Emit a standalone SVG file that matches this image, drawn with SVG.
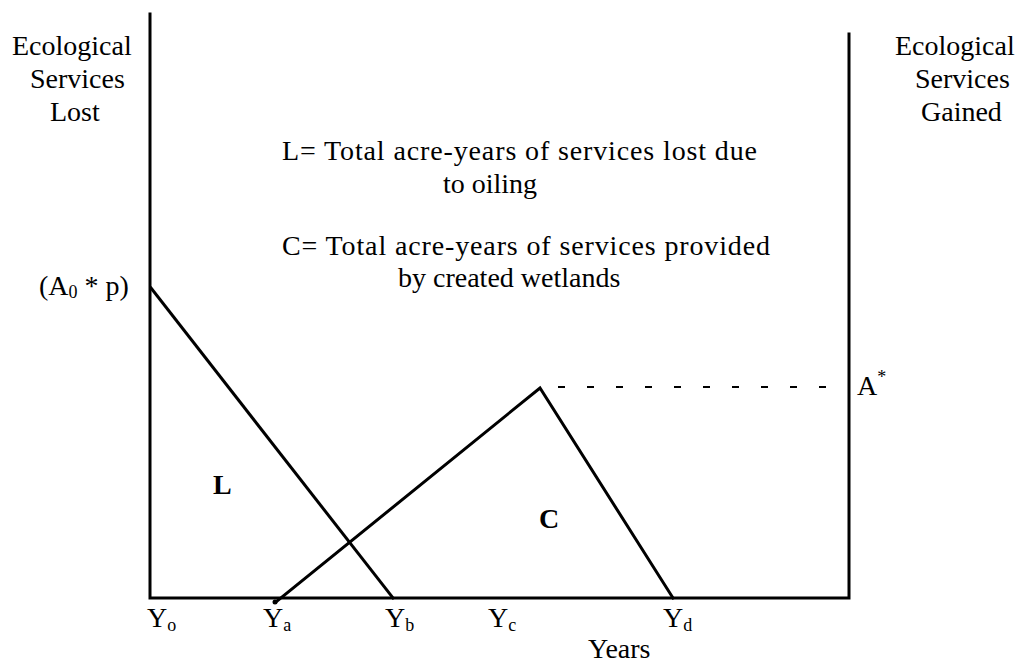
<svg xmlns="http://www.w3.org/2000/svg" width="1019" height="662" viewBox="0 0 1019 662">
<style>
.t{font-family:"Liberation Serif","Times New Roman",serif;font-size:28px;fill:#000}
.s{font-size:18px}
.b{font-weight:bold}
.ln{stroke:#000;stroke-width:3;fill:none;stroke-linecap:square;stroke-linejoin:miter}
.dash{stroke:#000;stroke-width:2;stroke-dasharray:7 22;fill:none}
</style>
<rect width="1019" height="662" fill="#fff"/>
<g id="axes">
<path class="ln" d="M150 14 V598 H849 V34"/>
</g>
<g id="connectors">
<path id="loss-line" class="ln" d="M151 288 L393 598"/>
<path id="gain-line" class="ln" d="M276 602 L540 388 L673 598"/>
<circle cx="275" cy="602" r="2.5" fill="#000"/>
<path class="dash" d="M558 387 H830"/>
</g>
<g id="label-lost">
<text class="t" x="12" y="55">Ecological</text>
<text class="t" x="30" y="88">Services</text>
<text class="t" x="50" y="121">Lost</text>
</g>
<g id="label-gained">
<text class="t" x="895" y="55">Ecological</text>
<text class="t" x="915" y="88">Services</text>
<text class="t" x="921" y="121">Gained</text>
</g>
<g id="legend">
<text class="t" x="282" y="160" textLength="475" lengthAdjust="spacing">L= Total acre-years of services lost due</text>
<text class="t" x="443" y="193">to oiling</text>
<text class="t" x="282" y="255" textLength="488" lengthAdjust="spacing">C= Total acre-years of services provided</text>
<text class="t" x="398" y="287">by created wetlands</text>
</g>
<g id="label-a0p">
<text class="t" x="39" y="295">(A<tspan class="s" dy="3">0</tspan><tspan dy="-3"> * p)</tspan></text>
</g>
<g id="label-astar">
<text class="t" x="857" y="395">A<tspan class="s" dy="-12">*</tspan></text>
</g>
<g id="region-L"><text class="t b" x="213" y="494">L</text></g>
<g id="region-C"><text class="t b" x="539" y="528">C</text></g>
<g id="x-labels">
<text class="t" x="147" y="627">Y<tspan class="s" dy="4">o</tspan></text>
<text class="t" x="263" y="627">Y<tspan class="s" dy="4">a</tspan></text>
<text class="t" x="385" y="627">Y<tspan class="s" dy="4">b</tspan></text>
<text class="t" x="488" y="627">Y<tspan class="s" dy="4">c</tspan></text>
<text class="t" x="663" y="627">Y<tspan class="s" dy="4">d</tspan></text>
<text class="t" x="588" y="658">Years</text>
</g>
</svg>
